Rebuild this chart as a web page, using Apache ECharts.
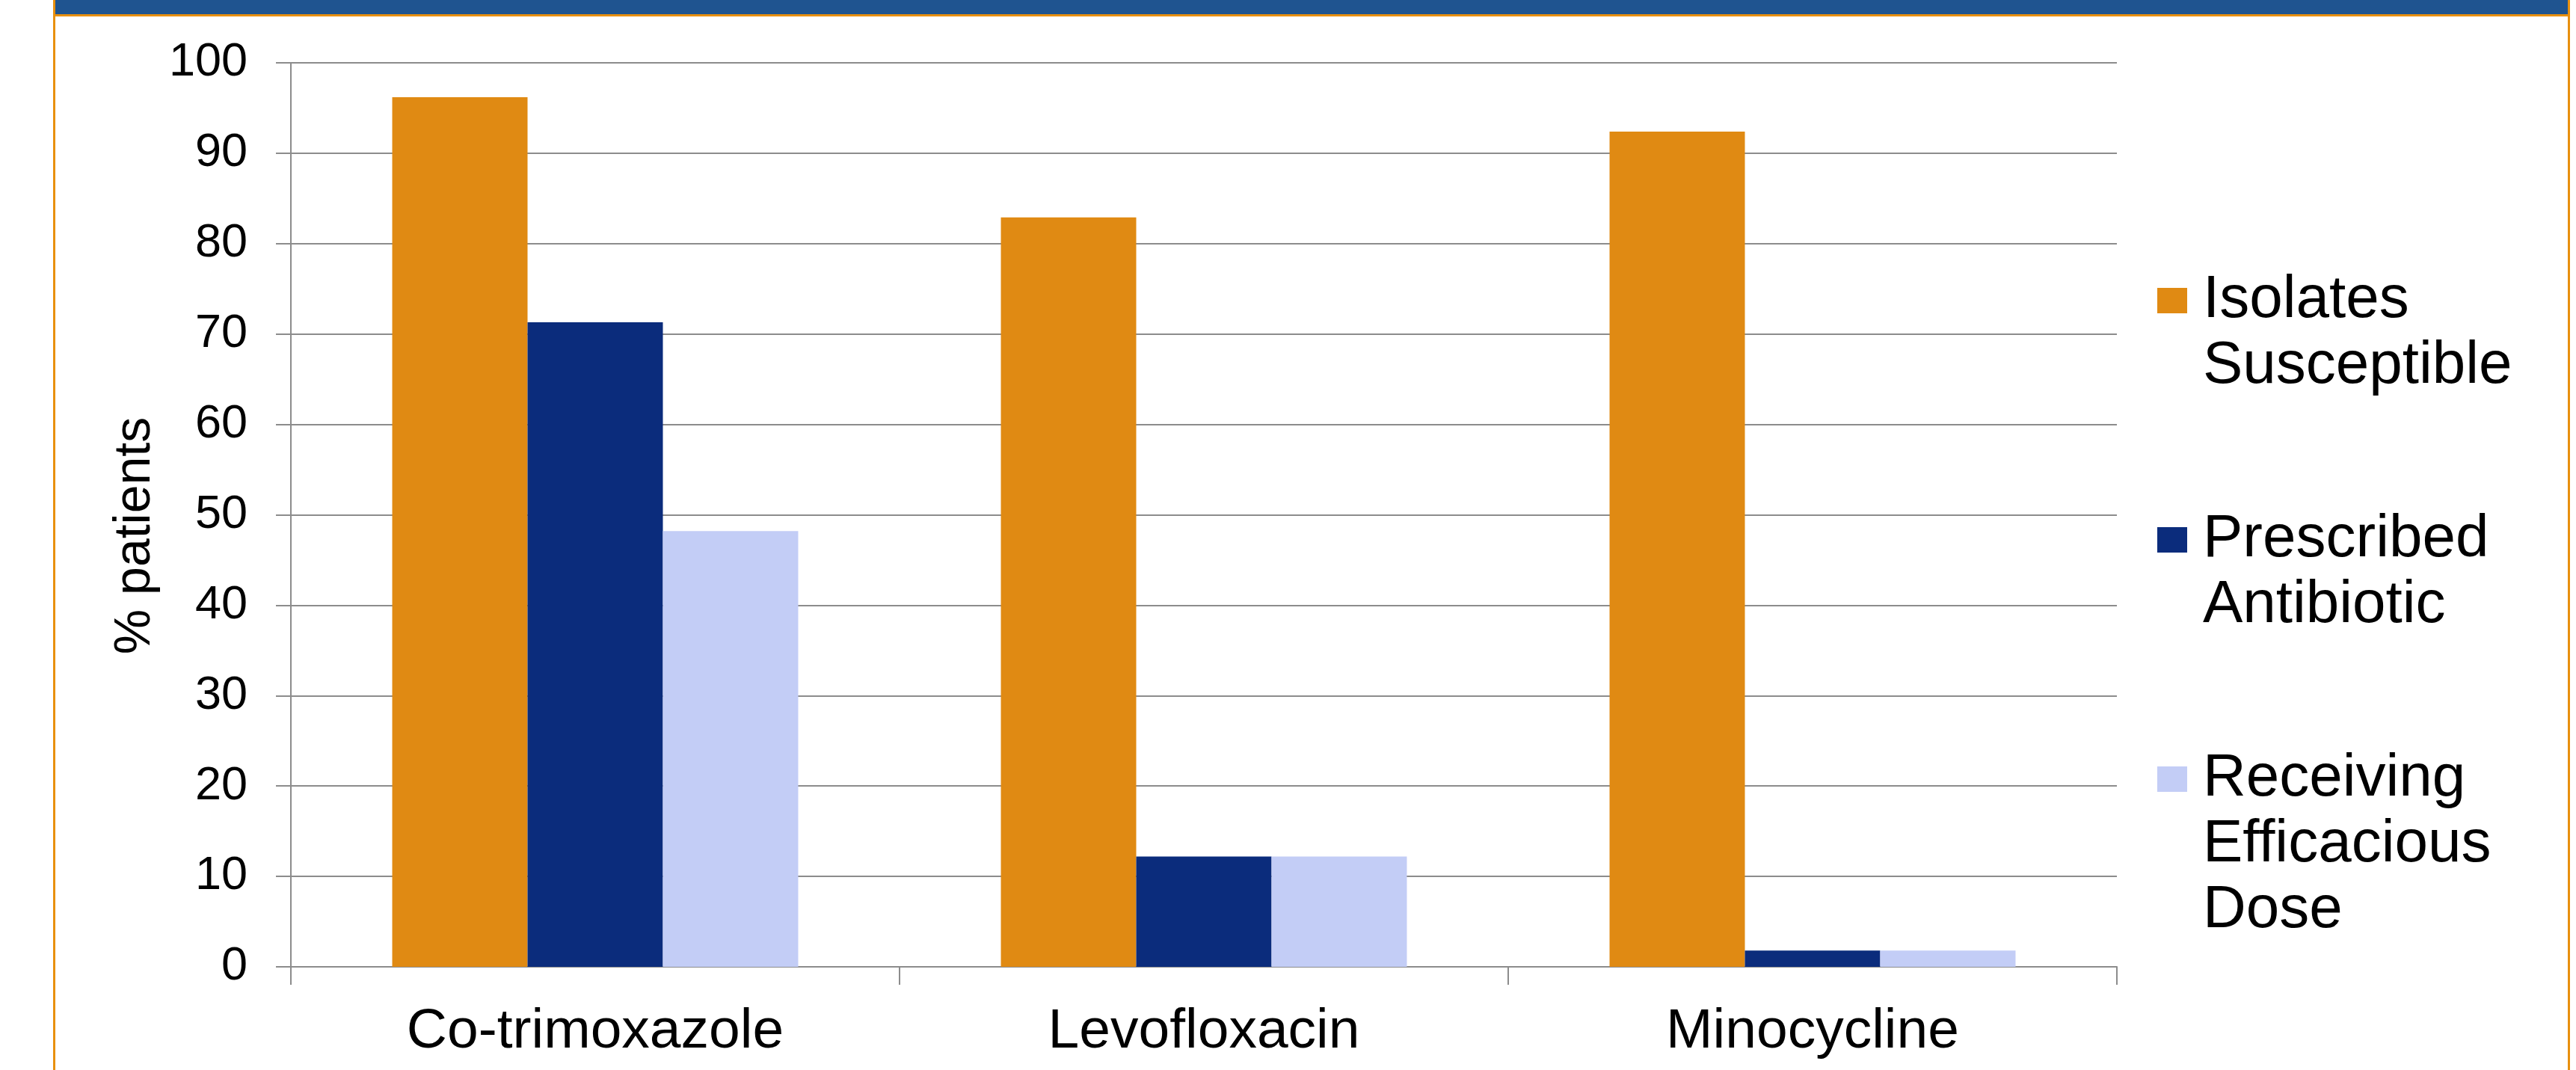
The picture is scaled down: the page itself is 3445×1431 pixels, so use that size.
<!DOCTYPE html>
<html>
<head>
<meta charset="utf-8">
<script src="https://cdn.jsdelivr.net/npm/echarts@6/dist/echarts.min.js"></script>
<style>
html,body{margin:0;padding:0;background:#fff;}
#chart{width:3445px;height:1431px;}
</style>
</head>
<body>
<div id="chart"></div>
<script>
var categories = ['Co-trimoxazole', 'Levofloxacin', 'Minocycline'];
var seriesNames = ['Isolates\nSusceptible', 'Prescribed\nAntibiotic', 'Receiving\nEfficacious\nDose'];
var isolatesSusceptible = [96.2, 82.9, 92.4];
var prescribedAntibiotic = [71.3, 12.2, 1.8];
var receivingEfficaciousDose = [48.2, 12.2, 1.8];
var yTicks = { min: 0, max: 100, interval: 10 };

var FONT = "'Liberation Sans', Arial, sans-serif";
var colors = ['#E08A13', '#0B2C7C', '#C3CDF6'];
// blank lines above / below so that the icon sits beside the first text line
var blanksAbove = { 'Isolates\nSusceptible': 2, 'Prescribed\nAntibiotic': 1, 'Receiving\nEfficacious\nDose': 2 };
var blanksBelow = { 'Isolates\nSusceptible': 1, 'Prescribed\nAntibiotic': 0, 'Receiving\nEfficacious\nDose': 0 };

var chart = echarts.init(document.getElementById('chart'));

function legendFormatter(name) {
  var lines = [];
  var i;
  for (i = 0; i < blanksAbove[name]; i++) lines.push('{b| }');
  name.split('\n').forEach(function (l) { lines.push('{t|' + l + '}'); });
  for (i = 0; i < blanksBelow[name]; i++) lines.push('{b| }');
  return lines.join('\n');
}

chart.setOption({
  backgroundColor: '#fff',
  animation: false,
  graphic: [
    { type: 'rect', shape: { x: 72, y: 0, width: 3364, height: 19 }, style: { fill: '#1F5490' }, silent: true },
    { type: 'rect', shape: { x: 72, y: 19, width: 3364, height: 3 }, style: { fill: '#E8900F' }, silent: true },
    { type: 'rect', shape: { x: 71, y: 0, width: 3, height: 1431 }, style: { fill: '#E8900F' }, silent: true },
    { type: 'rect', shape: { x: 3434, y: 0, width: 3, height: 1431 }, style: { fill: '#E8900F' }, silent: true }
  ],
  grid: { left: 389, right: 614, top: 84, bottom: 138, containLabel: false },
  legend: {
    orient: 'vertical',
    left: 2885,
    top: 182,
    padding: 0,
    itemGap: -32,
    itemWidth: 40,
    itemHeight: 34,
    selectedMode: false,
    icon: 'rect',
    data: seriesNames,
    formatter: legendFormatter,
    textStyle: {
      fontSize: 79, lineHeight: 88, fontFamily: FONT, color: '#000',
      rich: {
        t: { fontSize: 80, lineHeight: 88, fontFamily: FONT, color: '#000', padding: [0, 0, 0, 16] },
        b: { fontSize: 80, lineHeight: 88, fontFamily: FONT, color: '#000' }
      }
    }
  },
  xAxis: {
    type: 'category',
    data: categories,
    axisLine: { show: true, lineStyle: { color: '#8c8c8c', width: 2 } },
    axisTick: { show: true, alignWithLabel: false, length: 24, lineStyle: { color: '#8c8c8c', width: 2 } },
    axisLabel: { fontSize: 75, fontFamily: FONT, color: '#000', margin: 50 },
    splitLine: { show: false }
  },
  yAxis: {
    type: 'value',
    min: yTicks.min,
    max: yTicks.max,
    interval: yTicks.interval,
    name: '% patients',
    nameLocation: 'middle',
    nameGap: 174,
    nameRotate: 90,
    nameTextStyle: { fontSize: 68, fontFamily: FONT, color: '#000', padding: [0, 56, 0, 0] },
    axisLine: { show: true, lineStyle: { color: '#8c8c8c', width: 2 } },
    axisTick: { show: true, inside: false, length: 20, lineStyle: { color: '#8c8c8c', width: 2 } },
    axisLabel: { fontSize: 63, fontFamily: FONT, color: '#000', margin: 58 },
    splitLine: { show: true, lineStyle: { color: '#8c8c8c', width: 2 } }
  },
  series: [
    { name: seriesNames[0], type: 'bar', data: isolatesSusceptible, barGap: '0%', barCategoryGap: '33.3%',
      itemStyle: { color: colors[0] } },
    { name: seriesNames[1], type: 'bar', data: prescribedAntibiotic, barGap: '0%', barCategoryGap: '33.3%',
      itemStyle: { color: colors[1] } },
    { name: seriesNames[2], type: 'bar', data: receivingEfficaciousDose, barGap: '0%', barCategoryGap: '33.3%',
      itemStyle: { color: colors[2] } }
  ]
});
</script>
</body>
</html>
